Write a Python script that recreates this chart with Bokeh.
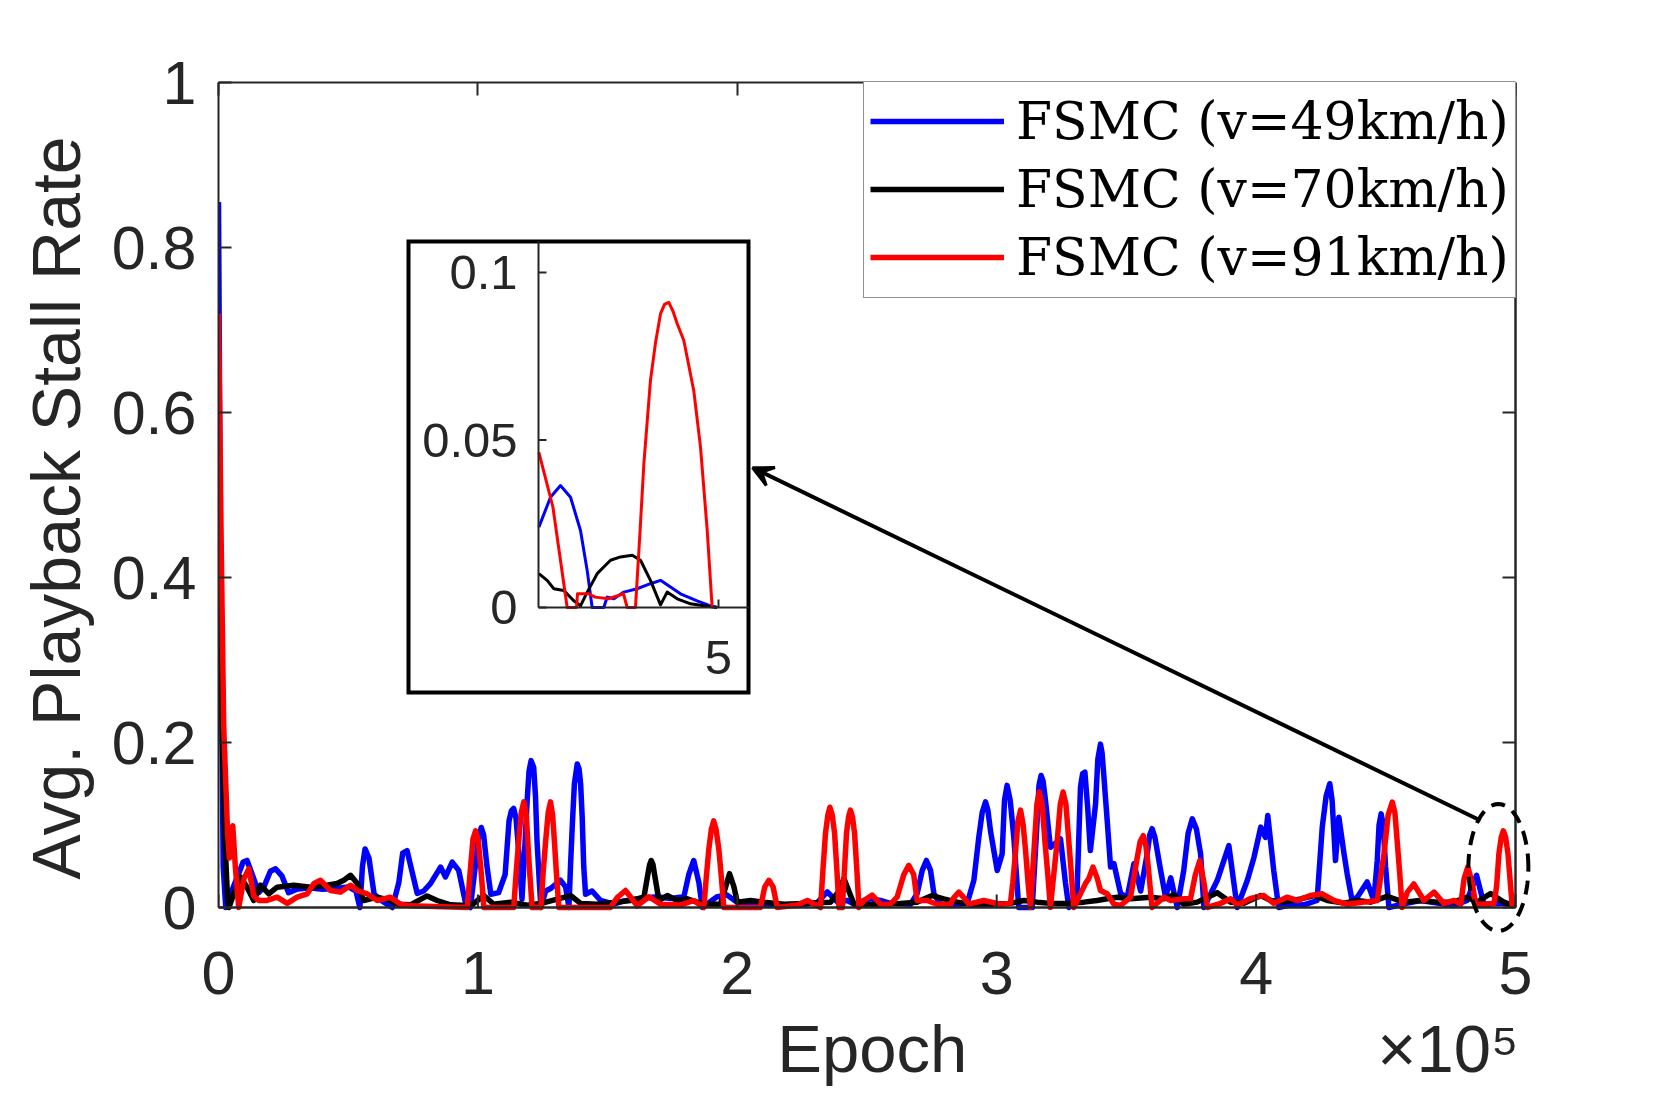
import math
from bokeh.plotting import figure
from bokeh.models import (Range1d, LinearAxis, FixedTicker, Legend, LegendItem,
                          Arrow, VeeHead, PolyAnnotation)
from bokeh.core.properties import value
from bokeh.embed import file_html
from bokeh.resources import INLINE

# ---------------- data: (epoch in units of 1e5, avg. stall rate) ----------------
blue = [(0.000, 0.855), (0.008, 0.40), (0.018, 0.05), (0.028, 0.0), (0.045, 0.015), (0.07, 0.035),
        (0.095, 0.055), (0.11, 0.057), (0.13, 0.040), (0.155, 0.018), (0.175, 0.025), (0.20, 0.044),
        (0.22, 0.047), (0.245, 0.038), (0.27, 0.018), (0.30, 0.022), (0.35, 0.024), (0.40, 0.022),
        (0.45, 0.023), (0.50, 0.025), (0.53, 0.020), (0.545, 0.0), (0.555, 0.050), (0.565, 0.071),
        (0.58, 0.060), (0.60, 0.016), (0.63, 0.008), (0.67, 0.0), (0.695, 0.030), (0.71, 0.066),
        (0.727, 0.069), (0.745, 0.045), (0.766, 0.017), (0.791, 0.020), (0.817, 0.029), (0.856, 0.049),
        (0.875, 0.037), (0.901, 0.055), (0.926, 0.045), (0.952, 0.006), (0.971, 0.0), (0.99, 0.05),
        (1.003, 0.087), (1.013, 0.097), (1.022, 0.088), (1.035, 0.05), (1.05, 0.016), (1.08, 0.018),
        (1.105, 0.040), (1.12, 0.105), (1.129, 0.117), (1.138, 0.120), (1.147, 0.108), (1.157, 0.07),
        (1.17, 0.010), (1.182, 0.08), (1.19, 0.13), (1.197, 0.165), (1.205, 0.178), (1.215, 0.170),
        (1.222, 0.135), (1.228, 0.080), (1.236, 0.035), (1.243, 0.0), (1.261, 0.020), (1.280, 0.023),
        (1.318, 0.033), (1.338, 0.025), (1.351, 0.0), (1.357, 0.05), (1.364, 0.100), (1.372, 0.150),
        (1.383, 0.174), (1.39, 0.168), (1.396, 0.150), (1.402, 0.11), (1.408, 0.050), (1.415, 0.016),
        (1.440, 0.020), (1.473, 0.0085), (1.524, 0.004), (1.563, 0.008), (1.627, 0.011), (1.691, 0.013),
        (1.743, 0.011), (1.794, 0.013), (1.813, 0.040), (1.832, 0.057), (1.852, 0.030), (1.865, 0.0),
        (1.922, 0.013), (1.961, 0.015), (1.999, 0.0065), (2.102, 0.004), (2.231, 0.0024), (2.308, 0.006),
        (2.347, 0.019), (2.385, 0.007), (2.424, 0.0085), (2.45, 0.004), (2.488, 0.0085), (2.513, 0.0105),
        (2.552, 0.0085), (2.590, 0.005), (2.668, 0.004), (2.693, 0.0166), (2.713, 0.045), (2.729, 0.057),
        (2.745, 0.045), (2.758, 0.0166), (2.783, 0.004), (2.822, 0.0024), (2.886, 0.0048), (2.912, 0.033),
        (2.931, 0.085), (2.944, 0.115), (2.957, 0.128), (2.966, 0.118), (2.976, 0.093), (3.002, 0.0448),
        (3.021, 0.065), (3.030, 0.13), (3.040, 0.148), (3.052, 0.13), (3.066, 0.085), (3.076, 0.04),
        (3.085, 0.0), (3.137, 0.0), (3.146, 0.05), (3.156, 0.1055), (3.163, 0.148), (3.171, 0.160),
        (3.179, 0.153), (3.188, 0.130), (3.207, 0.073), (3.246, 0.083), (3.265, 0.030), (3.278, 0.0),
        (3.310, 0.020), (3.316, 0.08), (3.323, 0.146), (3.331, 0.162), (3.340, 0.164), (3.351, 0.120),
        (3.361, 0.069), (3.381, 0.125), (3.390, 0.18), (3.400, 0.198), (3.406, 0.188), (3.413, 0.160),
        (3.420, 0.13), (3.426, 0.1055), (3.439, 0.049), (3.452, 0.053), (3.478, 0.0166), (3.503, 0.0125),
        (3.529, 0.053), (3.555, 0.020), (3.580, 0.065), (3.590, 0.088), (3.599, 0.0955), (3.610, 0.085),
        (3.632, 0.0448), (3.651, 0.0125), (3.671, 0.036), (3.696, 0.0), (3.721, 0.0448), (3.738, 0.09),
        (3.754, 0.1075), (3.770, 0.095), (3.786, 0.065), (3.799, 0.0), (3.850, 0.0327), (3.895, 0.075),
        (3.927, 0.0), (3.966, 0.0327), (3.992, 0.061), (4.018, 0.0974), (4.036, 0.085), (4.045, 0.1115),
        (4.068, 0.0448), (4.087, 0.0), (4.119, 0.0024), (4.184, 0.0032), (4.235, 0.0085), (4.255, 0.0974),
        (4.270, 0.135), (4.284, 0.150), (4.293, 0.13), (4.306, 0.057), (4.319, 0.1095), (4.339, 0.065),
        (4.351, 0.041), (4.370, 0.0085), (4.390, 0.0125), (4.428, 0.031), (4.454, 0.0085), (4.467, 0.057),
        (4.474, 0.10), (4.482, 0.1135), (4.490, 0.10), (4.499, 0.050), (4.512, 0.0), (4.570, 0.0045),
        (4.634, 0.0085), (4.698, 0.0053), (4.763, 0.0024), (4.813, 0.0085), (4.850, 0.039), (4.878, 0.004),
        (4.955, 0.0053), (4.994, 0.002)]

black = [(0.0, 0.50), (0.008, 0.32), (0.015, 0.20), (0.025, 0.08), (0.035, 0.01), (0.040, 0.0),
         (0.059, 0.0166), (0.085, 0.037), (0.11, 0.0246), (0.136, 0.0085), (0.162, 0.027), (0.194, 0.0166),
         (0.226, 0.0246), (0.290, 0.027), (0.355, 0.0246), (0.419, 0.027), (0.457, 0.029), (0.483, 0.033),
         (0.509, 0.039), (0.535, 0.029), (0.560, 0.0085), (0.612, 0.0125), (0.663, 0.0085), (0.689, 0.004),
         (0.740, 0.0032), (0.804, 0.014), (0.843, 0.0085), (0.894, 0.0032), (0.972, 0.002), (1.023, 0.0145),
         (1.061, 0.004), (1.126, 0.0065), (1.190, 0.0028), (1.241, 0.0048), (1.357, 0.0145), (1.396, 0.005),
         (1.460, 0.004), (1.537, 0.0065), (1.588, 0.0085), (1.640, 0.0125), (1.655, 0.04), (1.662, 0.052),
         (1.668, 0.057), (1.675, 0.052), (1.681, 0.04), (1.698, 0.0085), (1.730, 0.0145), (1.768, 0.0085),
         (1.807, 0.0105), (1.845, 0.0065), (1.897, 0.004), (1.935, 0.004), (1.955, 0.025), (1.970, 0.041),
         (1.987, 0.025), (2.000, 0.0065), (2.051, 0.0085), (2.102, 0.0065), (2.180, 0.004), (2.257, 0.005),
         (2.360, 0.0065), (2.392, 0.02), (2.411, 0.035), (2.430, 0.02), (2.450, 0.004), (2.501, 0.0032),
         (2.565, 0.004), (2.629, 0.005), (2.693, 0.0065), (2.751, 0.0145), (2.796, 0.0105), (2.848, 0.0065),
         (2.912, 0.004), (2.976, 0.004), (3.053, 0.005), (3.105, 0.0085), (3.156, 0.0065), (3.207, 0.005),
         (3.272, 0.005), (3.336, 0.0065), (3.387, 0.0085), (3.426, 0.0105), (3.465, 0.0125), (3.516, 0.0105),
         (3.593, 0.0125), (3.645, 0.0105), (3.683, 0.0155), (3.721, 0.004), (3.773, 0.0065), (3.850, 0.018),
         (3.902, 0.0065), (3.953, 0.0053), (4.018, 0.0145), (4.057, 0.0085), (4.108, 0.0065), (4.172, 0.0105),
         (4.224, 0.0145), (4.275, 0.0085), (4.339, 0.0053), (4.390, 0.0085), (4.441, 0.0065), (4.505, 0.0135),
         (4.570, 0.0065), (4.634, 0.0085), (4.698, 0.0065), (4.763, 0.0065), (4.813, 0.0125), (4.852, 0.0065),
         (4.904, 0.017), (4.955, 0.0065), (4.994, 0.0024)]

red = [(0.0, 0.72), (0.01, 0.45), (0.02, 0.22), (0.035, 0.09), (0.042, 0.06), (0.05, 0.095), (0.055, 0.099),
       (0.065, 0.049), (0.078, 0.0), (0.098, 0.035), (0.117, 0.047), (0.136, 0.014), (0.155, 0.0085),
       (0.187, 0.0085), (0.226, 0.0125), (0.265, 0.005), (0.303, 0.0125), (0.342, 0.0166), (0.368, 0.029),
       (0.393, 0.033), (0.432, 0.0206), (0.470, 0.0186), (0.509, 0.027), (0.535, 0.0206), (0.573, 0.0166),
       (0.612, 0.0085), (0.663, 0.0125), (0.702, 0.004), (0.740, 0.002), (0.959, 0.0), (0.972, 0.05),
       (0.981, 0.083), (0.991, 0.093), (1.001, 0.082), (1.012, 0.045), (1.023, 0.0), (1.138, 0.0),
       (1.147, 0.04), (1.157, 0.08), (1.167, 0.115), (1.177, 0.128), (1.187, 0.11), (1.196, 0.06),
       (1.209, 0.0), (1.243, 0.0), (1.251, 0.04), (1.261, 0.08), (1.271, 0.115), (1.280, 0.128),
       (1.288, 0.112), (1.295, 0.08), (1.303, 0.04), (1.312, 0.0), (1.511, 0.0), (1.537, 0.012),
       (1.569, 0.0206), (1.595, 0.01), (1.614, 0.002), (1.659, 0.013), (1.704, 0.004), (1.781, 0.003),
       (1.832, 0.0085), (1.871, 0.0), (1.880, 0.035), (1.890, 0.07), (1.900, 0.095), (1.909, 0.105),
       (1.918, 0.095), (1.929, 0.07), (1.939, 0.035), (1.948, 0.0), (2.089, 0.0), (2.106, 0.025),
       (2.122, 0.033), (2.138, 0.025), (2.154, 0.0), (2.231, 0.003), (2.270, 0.0085), (2.321, 0.0),
       (2.330, 0.045), (2.340, 0.09), (2.349, 0.112), (2.357, 0.1216), (2.366, 0.112), (2.375, 0.09),
       (2.384, 0.045), (2.392, 0.0), (2.405, 0.0), (2.413, 0.045), (2.421, 0.09), (2.429, 0.11),
       (2.436, 0.118), (2.444, 0.11), (2.452, 0.09), (2.461, 0.045), (2.469, 0.0), (2.488, 0.0085),
       (2.52, 0.015), (2.552, 0.004), (2.590, 0.004), (2.616, 0.0125), (2.642, 0.04), (2.661, 0.051),
       (2.680, 0.04), (2.693, 0.0085), (2.732, 0.0085), (2.770, 0.004), (2.822, 0.004), (2.835, 0.012),
       (2.854, 0.0186), (2.873, 0.012), (2.892, 0.004), (2.950, 0.0085), (3.014, 0.004), (3.053, 0.005),
       (3.062, 0.03), (3.072, 0.065), (3.082, 0.105), (3.092, 0.118), (3.102, 0.10), (3.111, 0.07),
       (3.121, 0.03), (3.130, 0.0), (3.138, 0.04), (3.146, 0.08), (3.155, 0.125), (3.164, 0.140),
       (3.175, 0.125), (3.186, 0.08), (3.197, 0.04), (3.207, 0.0), (3.220, 0.04), (3.233, 0.08),
       (3.245, 0.125), (3.256, 0.140), (3.267, 0.125), (3.278, 0.08), (3.288, 0.04), (3.297, 0.0),
       (3.323, 0.0166), (3.342, 0.029), (3.355, 0.035), (3.371, 0.049), (3.388, 0.035), (3.400, 0.0206),
       (3.426, 0.0166), (3.452, 0.004), (3.478, 0.0024), (3.516, 0.0125), (3.542, 0.061), (3.553, 0.08),
       (3.565, 0.087), (3.575, 0.075), (3.584, 0.05), (3.599, 0.0), (3.645, 0.0125), (3.671, 0.0085),
       (3.721, 0.0105), (3.747, 0.0105), (3.766, 0.04), (3.783, 0.057), (3.799, 0.03), (3.812, 0.0),
       (3.863, 0.005), (3.902, 0.0105), (3.927, 0.003), (3.979, 0.011), (4.030, 0.0145), (4.068, 0.005),
       (4.119, 0.0125), (4.158, 0.0085), (4.209, 0.0145), (4.255, 0.0166), (4.300, 0.0085), (4.351, 0.004),
       (4.416, 0.0065), (4.467, 0.0085), (4.493, 0.065), (4.509, 0.112), (4.525, 0.1277), (4.535, 0.115),
       (4.544, 0.08), (4.554, 0.04), (4.563, 0.0), (4.583, 0.0186), (4.608, 0.0285), (4.647, 0.0085),
       (4.686, 0.0186), (4.724, 0.005), (4.763, 0.0085), (4.789, 0.004), (4.802, 0.035), (4.816, 0.049),
       (4.833, 0.03), (4.846, 0.004), (4.878, 0.004), (4.917, 0.005), (4.927, 0.025), (4.936, 0.065),
       (4.945, 0.085), (4.953, 0.093), (4.962, 0.085), (4.971, 0.065), (4.980, 0.03), (4.988, 0.0)]

# zoomed inset: tail of the run
inset_blue = [(4.8503, 0.024), (4.86, 0.0329), (4.8683, 0.0364), (4.8767, 0.0329), (4.885, 0.023),
              (4.8906, 0.011), (4.8947, 0.0), (4.9044, 0.0), (4.9072, 0.0031), (4.9128, 0.0026),
              (4.9211, 0.0046), (4.9322, 0.0056), (4.9433, 0.0071), (4.9517, 0.0081), (4.96, 0.0061),
              (4.9683, 0.0041), (4.9822, 0.002), (4.9933, 0.0005), (4.9989, 0.0)]
inset_black = [(4.8503, 0.0101), (4.8572, 0.0081), (4.8628, 0.0056), (4.8711, 0.0051), (4.8794, 0.002),
               (4.885, 0.0005), (4.8906, 0.0046), (4.8989, 0.0101), (4.91, 0.0141), (4.9183, 0.0151),
               (4.9281, 0.0156), (4.935, 0.0141), (4.9433, 0.0081), (4.9517, 0.0008), (4.9572, 0.0046),
               (4.9656, 0.0026), (4.9767, 0.0011), (4.9878, 0.0005), (4.9989, 0.0)]
inset_red = [(4.8503, 0.0463), (4.862, 0.03), (4.8739, 0.0), (4.8817, 0.0), (4.8825, 0.0041),
             (4.8917, 0.0041), (4.8972, 0.0031), (4.9083, 0.0026), (4.9167, 0.0036), (4.9208, 0.0041),
             (4.9239, 0.0), (4.9308, 0.0), (4.9345, 0.022), (4.9378, 0.0429), (4.9433, 0.0678),
             (4.9475, 0.079), (4.9517, 0.0877), (4.955, 0.0905), (4.9586, 0.0911), (4.962, 0.0885),
             (4.9656, 0.0847), (4.9711, 0.0797), (4.9794, 0.0647), (4.985, 0.0479), (4.9906, 0.023),
             (4.9947, 0.0)]

legend_labels = ["FSMC (v=49km/h)", "FSMC (v=70km/h)", "FSMC (v=91km/h)"]
x_ticks = [0, 1, 2, 3, 4, 5]
x_tick_labels = ["0", "1", "2", "3", "4", "5"]
y_ticks = [0, 0.2, 0.4, 0.6, 0.8, 1]
y_tick_labels = ["0", "0.2", "0.4", "0.6", "0.8", "1"]
x_title = "Epoch"
x_multiplier = "\u00d710\u2075"
inset_y_ticks = [0, 0.05, 0.1]
inset_y_tick_labels = ["0", "0.05", "0.1"]
inset_x_ticks = [5]
inset_x_tick_labels = ["5"]
X_MAX, Y_MAX = 5, 1

def xs_of(pts):
    return [a for a, b in pts]

def ys_of(pts):
    return [b for a, b in pts]

# ---------------- layout constants ----------------
PW, PH = 1297, 825        # px spanned by the axes box (x 0..5, y 0..1)
EXT_R, EXT_B = 16, 26     # extra frame px right of x=5 / below y=0 so the dashed ellipse can cross the box
FW, FH = PW + EXT_R, PH + EXT_B
XPX = X_MAX / PW          # data units per px (x)
YPX = Y_MAX / PH          # data units per px (y)
AX = "#262626"
SANS = "Liberation Sans"
LW = 5.5
TICK = 13
INSET_X0, INSET_Y0 = 4.85, 0.0       # inset axes origin (data)
INSET_OX, INSET_OY = 320, 300        # origin offset from the axes-box bottom-left (px)
INSET_SX, INSET_SY = 1200.0, 3350.0  # px per data unit inside the inset
BOX_L, BOX_R, BOX_B, BOX_T = -130, 210, -85, 366   # inset box relative to origin (px)

p = figure(frame_width=FW, frame_height=FH,
           x_range=Range1d(0, X_MAX + EXT_R * XPX), y_range=Range1d(-EXT_B * YPX, Y_MAX),
           output_backend="svg", toolbar_location=None,
           min_border_left=218, min_border_right=119, min_border_top=82, min_border_bottom=156,
           background_fill_color="white", border_fill_color="white")
p.xgrid.visible = False
p.ygrid.visible = False
p.outline_line_color = None

p.extra_x_ranges = {"ix": Range1d(INSET_X0 - INSET_OX / INSET_SX, INSET_X0 + (FW - INSET_OX) / INSET_SX)}
p.extra_y_ranges = {"iy": Range1d(INSET_Y0 - (INSET_OY + EXT_B) / INSET_SY, INSET_Y0 + (PH - INSET_OY) / INSET_SY)}

def style_axis(ax, ticks, labels=None):
    ax.ticker = FixedTicker(ticks=ticks)
    ax.axis_line_color = AX
    ax.axis_line_width = 2
    ax.major_tick_in = TICK
    ax.major_tick_out = 0
    ax.major_tick_line_color = AX
    ax.major_tick_line_width = 2
    ax.minor_tick_line_color = None
    ax.major_label_text_font = SANS
    if labels is None:
        ax.major_label_text_color = None
        ax.major_label_text_font_size = "0px"
    else:
        ax.major_label_overrides = {t: s for t, s in zip(ticks, labels)}
        ax.major_label_text_color = AX
        ax.major_label_text_font_size = "61px"

# bottom axis: labels only (its line and ticks are drawn at y = 0 below)
xa = p.xaxis[0]
style_axis(xa, x_ticks, x_tick_labels)
xa.axis_line_color = None
xa.major_tick_line_color = None
xa.major_label_standoff = 44 - EXT_B

ya = p.yaxis[0]
style_axis(ya, y_ticks, y_tick_labels)
ya.bounds = (0, Y_MAX)
ya.major_label_standoff = 22
ya.axis_label = "Avg. Playback Stall Rate"
ya.axis_label_text_font = SANS
ya.axis_label_text_font_size = "68px"
ya.axis_label_text_font_style = "normal"
ya.axis_label_text_color = AX
ya.axis_label_standoff = 15

ta = LinearAxis()
style_axis(ta, x_ticks)
ta.bounds = (0, X_MAX)
p.add_layout(ta, "above")

# second row under the x ticks: axis title and the x10^5 multiplier on one line
title_ticks = [2.52, 4.74]
xt = LinearAxis(ticker=FixedTicker(ticks=title_ticks),
                major_label_overrides={title_ticks[0]: x_title, title_ticks[1]: x_multiplier},
                axis_line_color=None, major_tick_line_color=None, minor_tick_line_color=None,
                major_tick_in=0, major_tick_out=0, major_label_standoff=14,
                major_label_text_font=SANS, major_label_text_font_size="67px",
                major_label_text_color=AX)
p.add_layout(xt, "below")

# ---------------- main curves ----------------
rb = p.line(xs_of(blue), ys_of(blue), line_color="#0000FF", line_width=LW, line_join="round")
rk = p.line(xs_of(black), ys_of(black), line_color="#000000", line_width=LW, line_join="round")
rr = p.line(xs_of(red), ys_of(red), line_color="#FF0000", line_width=LW, line_join="round")

# box: bottom spine at y = 0 and right spine at x = 5, with inward ticks
p.segment(x0=[0, X_MAX], y0=[0, 0], x1=[X_MAX, X_MAX], y1=[0, Y_MAX], line_color=AX, line_width=2.5)
p.segment(x0=[X_MAX - TICK * XPX] * len(y_ticks), y0=y_ticks, x1=[X_MAX] * len(y_ticks), y1=y_ticks,
          line_color=AX, line_width=2)
p.segment(x0=x_ticks, y0=[0] * len(x_ticks), x1=x_ticks, y1=[TICK * YPX] * len(x_ticks),
          line_color=AX, line_width=2)

# ---------------- inset ----------------
ikw = dict(x_range_name="ix", y_range_name="iy")
p.quad(left=[INSET_X0 + BOX_L / INSET_SX], right=[INSET_X0 + BOX_R / INSET_SX],
       bottom=[INSET_Y0 + BOX_B / INSET_SY], top=[INSET_Y0 + BOX_T / INSET_SY],
       fill_color="white", line_color="black", line_width=4, line_join="miter", **ikw)
p.line(xs_of(inset_blue), ys_of(inset_blue), line_color="#0000FF", line_width=3, line_join="round", **ikw)
p.line(xs_of(inset_black), ys_of(inset_black), line_color="#000000", line_width=3, line_join="round", **ikw)
p.line(xs_of(inset_red), ys_of(inset_red), line_color="#FF0000", line_width=3, line_join="round", **ikw)
p.segment(x0=[INSET_X0, INSET_X0], y0=[INSET_Y0, INSET_Y0],
          x1=[INSET_X0, INSET_X0 + BOX_R / INSET_SX], y1=[INSET_Y0 + BOX_T / INSET_SY, INSET_Y0],
          line_color=AX, line_width=2, **ikw)
TL = 8
p.segment(x0=[INSET_X0] * len(inset_y_ticks), y0=inset_y_ticks,
          x1=[INSET_X0 + TL / INSET_SX] * len(inset_y_ticks), y1=inset_y_ticks,
          line_color=AX, line_width=2, **ikw)
p.segment(x0=inset_x_ticks, y0=[INSET_Y0] * len(inset_x_ticks),
          x1=inset_x_ticks, y1=[INSET_Y0 + TL / INSET_SY] * len(inset_x_ticks),
          line_color=AX, line_width=2, **ikw)
p.text(x=[INSET_X0] * len(inset_y_ticks), y=inset_y_ticks, text=inset_y_tick_labels,
       x_offset=-21, text_align="right", text_baseline="middle",
       text_font=value(SANS), text_font_size=value("49px"), text_color=AX, **ikw)
p.text(x=inset_x_ticks, y=[INSET_Y0] * len(inset_x_ticks), text=inset_x_tick_labels,
       y_offset=50, text_align="center", text_baseline="middle",
       text_font=value(SANS), text_font_size=value("49px"), text_color=AX, **ikw)

# ---------------- annotations: dashed ellipse + arrow ----------------
ex, ey = 4.934, 0.0485              # ellipse centre (data)
erx, ery = 30 * XPX, 63.5 * YPX     # semi-axes: 30 px and 63.5 px
n = 72
ell_x = [ex + erx * math.cos(2 * math.pi * k / n) for k in range(n)]
ell_y = [ey + ery * math.sin(2 * math.pi * k / n) for k in range(n)]
p.add_layout(PolyAnnotation(xs=ell_x, ys=ell_y, fill_color=None, fill_alpha=0,
                            line_color="black", line_alpha=1.0, line_width=4, line_dash="14 9"))
p.add_layout(Arrow(end=VeeHead(size=20, line_color="black", line_width=3, fill_color="black"),
                   x_start=4.865, y_start=0.1055, x_end=2.059, y_end=0.533,
                   line_color="black", line_width=4))

# legend: top-right corner of the axes box (x = 5, y = 1)
LEG_W, LEG_H = 652, 216
legend = Legend(items=[LegendItem(label=legend_labels[0], renderers=[rb]),
                       LegendItem(label=legend_labels[1], renderers=[rk]),
                       LegendItem(label=legend_labels[2], renderers=[rr])],
                location=(PW - LEG_W, FH - LEG_H), margin=0, padding=6, spacing=0,
                glyph_width=134, glyph_height=68, label_height=68, label_standoff=12,
                label_text_font="DejaVu Serif", label_text_font_size="52px", label_text_color="black",
                border_line_color=AX, border_line_width=1.5,
                background_fill_color="white", background_fill_alpha=1.0)
p.add_layout(legend)

open("out.html", "w").write(file_html(p, INLINE))
